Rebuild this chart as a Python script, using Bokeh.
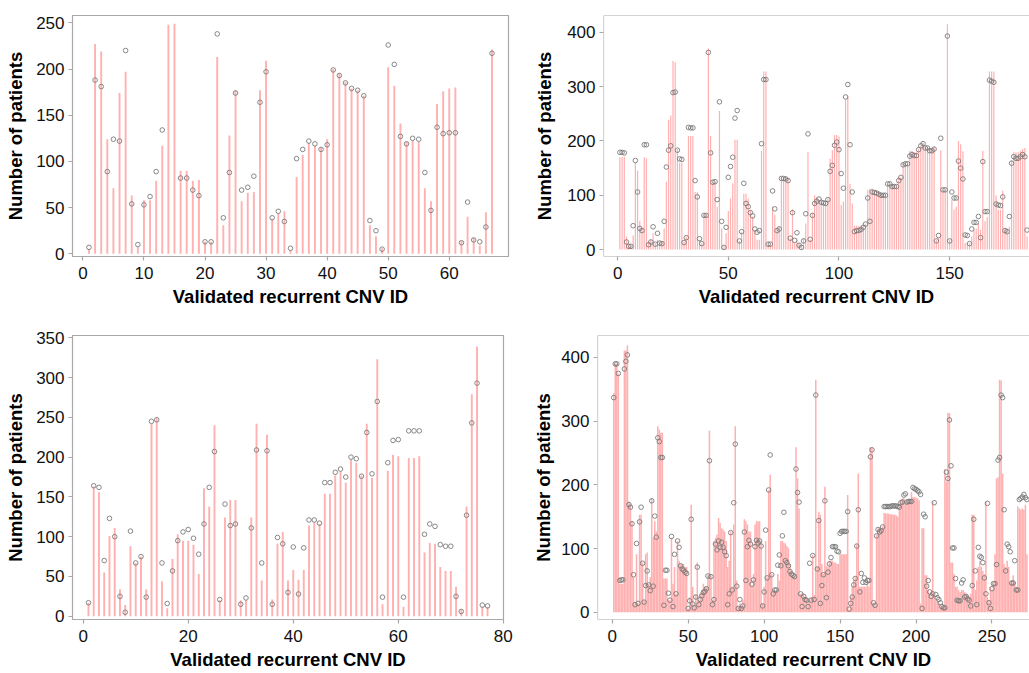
import numpy as np
from bokeh.plotting import figure
from bokeh.models import Range1d, FixedTicker, ColumnDataSource, Span
from bokeh.layouts import column, row
from bokeh.embed import file_html
from bokeh.resources import INLINE

# ---------------- data ----------------
# Panel 1 (top-left)
bars1 = [5,227,219,124,71,174,197,63,7,58,58,79,117,248,249,90,90,79,80,13,13,213,31,128,177,57,66,67,177,209,
         38,43,46,4,83,107,120,117,115,124,200,195,186,179,177,171,31,19,6,202,182,141,121,122,121,71,57,162,176,179,
         180,14,40,17,9,45,221]
pts1 = [7,188,181,89,124,122,220,54,10,53,62,89,134,None,None,82,82,69,63,13,13,238,39,88,174,69,72,84,164,197,
        39,46,35,6,103,113,122,119,113,118,199,193,185,179,177,171,36,25,5,226,205,127,119,125,124,88,47,137,130,131,
        131,12,56,15,13,29,217]

# Panel 2 (top-right)
bars2 = [170,171,171,24,9,6,26,160,145,53,39,170,168,12,18,30,12,18,15,15,39,125,239,247,347,345,185,160,160,15,
         24,209,209,209,106,106,18,12,64,64,370,209,124,124,79,255,39,6,30,71,94,122,202,202,16,33,103,103,94,73,
         61,36,18,18,182,328,328,9,9,79,64,36,42,133,133,133,130,21,74,12,18,12,6,21,48,180,18,67,100,97,
         91,88,88,86,94,167,183,211,211,208,82,88,276,282,121,85,44,44,44,44,45,48,110,112,112,109,109,106,103,103,
         103,121,118,118,118,118,133,133,158,158,158,182,182,179,179,185,191,197,189,189,185,185,189,18,21,183,109,109,415,18,
         91,74,79,200,194,181,12,12,12,24,36,39,48,36,182,52,60,328,328,328,100,74,73,109,39,39,42,164,179,179,
         179,182,185,187,24]
pts2 = [179,179,178,14,6,6,44,164,106,39,35,193,193,9,14,42,10,30,12,11,52,152,183,191,289,290,183,167,166,13,
        22,225,224,224,127,97,20,11,63,63,363,178,124,125,92,272,52,4,41,133,153,170,242,256,16,33,122,85,79,68,
        62,38,32,35,195,313,313,10,10,108,75,35,38,131,131,130,127,21,68,17,31,8,4,16,66,213,19,63,85,89,
        93,87,86,85,92,144,155,192,198,184,140,113,281,304,193,106,33,35,35,37,41,47,95,52,106,105,104,102,100,100,
        100,121,121,116,116,116,127,133,156,158,158,172,175,173,173,184,191,195,187,187,182,182,185,16,26,205,110,110,393,16,
        106,95,95,163,150,130,27,26,11,38,50,50,61,22,162,70,70,312,310,308,84,82,81,97,35,33,61,159,171,168,
        168,171,175,171,36]

# Panel 3 (bottom-left)
bars3 = [17,163,156,55,101,111,34,14,88,67,75,34,242,249,44,10,72,103,95,95,90,53,161,138,240,20,124,146,146,20,
         20,124,242,45,228,21,91,106,45,58,46,58,114,118,116,154,154,177,182,168,197,193,177,242,174,323,15,183,203,201,
         12,199,199,201,80,92,91,62,57,57,37,8,138,279,339,12,12]
pts3 = [17,164,162,70,123,100,25,5,107,67,75,24,245,247,67,16,57,95,106,109,98,78,116,162,207,21,141,114,116,15,
        23,111,209,67,208,15,99,91,30,87,28,86,121,121,117,168,168,181,185,175,200,198,176,231,179,270,24,193,221,222,
        24,233,233,233,103,116,113,90,88,88,25,6,127,243,293,14,13]

# Panel 4 (bottom-right)
bars4 = [344,390,390,375,45,45,45,411,411,419,174,169,143,55,14,91,14,153,153,78,19,91,94,45,55,179,117,143,127,292,
         287,282,282,53,53,53,19,19,117,45,71,29,112,81,76,76,76,71,71,6,24,169,40,9,27,78,19,29,35,45,
         40,40,58,285,58,19,112,117,122,148,140,132,130,127,112,71,81,127,40,138,292,50,9,14,9,19,146,143,138,127,
         127,40,60,138,143,143,143,112,14,40,112,55,192,216,60,35,35,35,60,50,112,112,109,108,104,101,76,65,58,58,
         259,210,163,29,29,29,22,22,19,19,24,90,27,365,71,158,153,76,60,197,73,71,81,81,81,78,78,76,76,91,
         91,91,91,91,184,4,24,40,50,55,107,218,40,40,40,40,40,50,40,259,259,14,11,122,132,132,132,135,156,155,
         155,155,154,154,153,153,152,150,163,174,179,179,174,174,174,174,189,181,181,180,179,176,14,132,132,58,58,35,29,24,
         174,24,19,16,14,9,9,9,225,205,313,313,78,78,60,40,40,35,32,35,35,32,29,27,24,29,153,153,
         35,50,71,81,71,65,60,174,24,19,40,35,45,91,210,212,365,364,218,76,71,81,71,45,50,58,47,40,
         166,163,161,163,161,169,91]
pts4 = [337,390,390,375,50,51,51,382,394,404,169,165,139,59,12,108,14,142,165,77,16,42,65,43,34,175,41,151,118,274,
        268,243,243,11,66,66,30,19,119,9,91,29,112,102,73,68,66,63,61,6,18,146,13,7,24,71,12,20,26,31,
        33,37,57,238,56,12,20,107,98,112,102,110,102,95,89,12,29,125,35,172,264,41,6,20,6,10,126,50,103,113,
        107,44,51,103,113,109,112,104,10,32,129,54,192,247,59,29,35,35,74,90,73,120,157,81,78,73,64,60,58,56,
        225,188,173,29,9,25,20,19,9,77,19,89,20,341,68,144,14,42,59,175,23,63,76,86,103,103,103,96,95,124,
        127,127,127,127,158,5,14,24,43,53,104,161,32,61,47,54,47,50,50,244,255,15,11,120,130,126,128,134,166,166,
        166,166,166,167,167,167,167,166,165,172,173,184,186,173,174,174,174,196,194,193,191,189,185,6,154,150,41,50,32,25,29,
        172,28,23,20,15,9,7,7,220,210,302,230,101,101,53,19,18,18,46,51,24,25,21,19,10,42,146,65,
        12,102,88,86,78,54,29,171,15,6,37,45,45,75,239,243,341,337,161,65,107,103,95,46,46,81,35,35,
        177,179,181,185,180,177,7]

xticks1 = [0, 10, 20, 30, 40, 50, 60]
yticks1 = [0, 50, 100, 150, 200, 250]
xticks2 = [0, 50, 100, 150]
yticks2 = [0, 100, 200, 300, 400]
xticks3 = [0, 20, 40, 60, 80]
yticks3 = [0, 50, 100, 150, 200, 250, 300, 350]
xticks4 = [0, 50, 100, 150, 200, 250]
yticks4 = [0, 100, 200, 300, 400]

xlabel = "Validated recurrent CNV ID"
ylabel = "Number of patients"

LINE_COLOR = "#FFB0B0"
PT_COLOR = "#7A7A7A"
FRAME_COLOR = "#A8A8A8"
FONT = "Liberation Sans"


def panel(bars, pts, xr, yr, xt, yt, width, height, mbl, mbr, mbt, mbb,
          lw, yl_standoff, open_right=False):
    n = len(bars)
    ids = np.arange(1, n + 1)
    src = ColumnDataSource(dict(
        x=ids,
        base=np.zeros(n),
        bar=np.array(bars, dtype=float),
        pt=np.array([np.nan if v is None else v for v in pts], dtype=float),
    ))
    p = figure(width=width, height=height, output_backend="svg", toolbar_location=None,
               x_range=Range1d(xr[0], xr[1]), y_range=Range1d(yr[0], yr[1]),
               min_border_left=mbl, min_border_right=mbr,
               min_border_top=mbt, min_border_bottom=mbb)
    p.xgrid.visible = False
    p.ygrid.visible = False
    p.background_fill_color = "white"
    p.border_fill_color = "white"
    if open_right:
        p.outline_line_color = None
        for loc, dim in ((yr[1], "width"), (yr[0], "width"), (xr[0], "height")):
            p.add_layout(Span(location=loc, dimension=dim, line_color=FRAME_COLOR, line_width=1.2))
    else:
        p.outline_line_color = FRAME_COLOR
        p.outline_line_width = 1.2
    p.segment(x0="x", y0="base", x1="x", y1="bar", source=src,
              line_color=LINE_COLOR, line_width=lw, line_cap="butt")
    p.scatter(x="x", y="pt", source=src, marker="circle", size=4.6,
              fill_color=None, line_color=PT_COLOR, line_width=0.9)
    p.xaxis.ticker = FixedTicker(ticks=xt)
    p.yaxis.ticker = FixedTicker(ticks=yt)
    p.xaxis.axis_label = xlabel
    p.yaxis.axis_label = ylabel
    for ax in (p.xaxis[0], p.yaxis[0]):
        ax.axis_line_color = None
        ax.major_tick_line_color = FRAME_COLOR
        ax.major_tick_line_width = 1.2
        ax.major_tick_out = 4
        ax.major_tick_in = 0
        ax.minor_tick_line_color = None
        ax.major_label_text_font = FONT
        ax.major_label_text_font_size = "17px"
        ax.major_label_text_color = "#111111"
        ax.axis_label_text_font = FONT
        ax.axis_label_text_font_style = "bold"
        ax.axis_label_text_font_size = "18.5px"
        ax.axis_label_text_color = "#000000"
    p.xaxis.major_label_standoff = 6
    p.xaxis.axis_label_standoff = 4
    p.yaxis.major_label_standoff = 4
    p.yaxis.axis_label_standoff = yl_standoff
    return p


p1 = panel(bars1, pts1, (-1.7, 69.7), (-2.9, 257.9), xticks1, yticks1,
           530, 310, 72, 22, 15, 54, 1.9, 7)
p2 = panel(bars2, pts2, (-6.4, 186.1), (-12.7, 430.9), xticks2, yticks2,
           499, 310, 73, 0, 13, 53, 1.2, 9, open_right=True)
p3 = panel(bars3, pts3, (-2.04, 80.04), (-4.1, 352.9), xticks3, yticks3,
           530, 363, 72, 27, 25, 54, 1.9, 7)
p4 = panel(bars4, pts4, (-9.7, 274.7), (-11.3, 434.5), xticks4, yticks4,
           499, 363, 67, 0, 25, 54, 1.5, 4, open_right=True)

layout = column(row(p1, p2, spacing=0), row(p3, p4, spacing=0), spacing=0)

open("out.html", "w").write(file_html(layout, INLINE))
